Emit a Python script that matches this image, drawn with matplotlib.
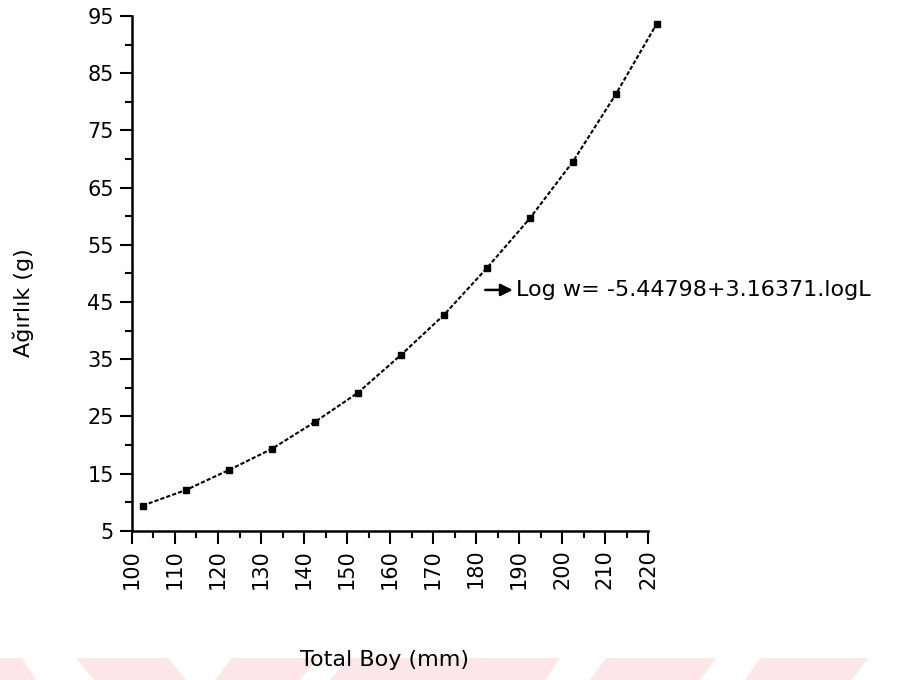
import numpy as np
from matplotlib import pyplot as plt
from matplotlib.patches import Polygon

# total length (mm) and weight (g)
boy = [102.5, 112.5, 122.5, 132.5, 142.5, 152.5, 162.5, 172.5, 182.5, 192.5, 202.5, 212.5, 222.0]
agirlik = [9.4, 12.1, 15.6, 19.3, 24.0, 29.1, 35.7, 42.7, 50.9, 59.6, 69.5, 81.3, 93.6]

x_ticks = list(range(100, 221, 10))
y_ticks = list(range(5, 96, 10))
denklem = 'Log w= -5.44798+3.16371.logL'

plt.rcParams['font.family'] = ['DejaVu Sans']

fig = plt.figure(figsize=(9.13, 6.8), dpi=100)

# faint pink watermark stripes at the bottom
pink = '#fce6ea'
bands = [
    [(0, 658), (22, 658), (36, 680), (0, 680)],
    [(76, 658), (168, 658), (186, 680), (94, 680)],
    [(215, 680), (232, 658), (318, 658), (300, 680)],
    [(330, 680), (348, 658), (560, 658), (545, 680)],
    [(590, 680), (606, 658), (716, 658), (700, 680)],
    [(745, 680), (760, 658), (868, 658), (852, 680)],
]
for b in bands:
    pts = [(px / 913, 1 - py / 680) for px, py in b]
    fig.patches.append(Polygon(pts, closed=True, transform=fig.transFigure,
                               facecolor=pink, edgecolor='none', zorder=0))

ax = fig.add_axes([132 / 913, 1 - 530.7 / 680, (648 - 132) / 913, (530.7 - 16) / 680])
ax.patch.set_alpha(0)

ax.plot(boy, agirlik, color='k', lw=1.5, linestyle=(0, (2, 1)),
        marker='s', markersize=5, clip_on=False)

ax.set_xlim(100, 220)
ax.set_ylim(5, 95)
ax.set_xticks(x_ticks)
ax.set_xticklabels([str(v) for v in x_ticks], rotation=90, fontsize=15)
ax.set_xticks(np.arange(105, 220, 10), minor=True)
ax.set_yticks(y_ticks)
ax.set_yticklabels([str(v) for v in y_ticks], fontsize=15)
ax.set_yticks(np.arange(10, 95, 10), minor=True)
ax.tick_params(which='major', length=9, width=1.5, direction='out', pad=4)
ax.tick_params(which='minor', length=5, width=1.5, direction='out')

for s in ['top', 'right']:
    ax.spines[s].set_visible(False)
for s in ['left', 'bottom']:
    ax.spines[s].set_linewidth(1.8)

ax.annotate('', xy=(189.2, 47.1), xytext=(181.5, 47.1),
            arrowprops=dict(arrowstyle='-|>', color='k', lw=1.8, mutation_scale=18),
            annotation_clip=False)
ax.text(189.4, 47.1, denklem, fontsize=16, va='center', ha='left', clip_on=False)

fig.text(384 / 913, 1 - 660 / 680, 'Total Boy (mm)', fontsize=16, ha='center', va='center')
fig.text(23 / 913, 1 - 303 / 680, 'Ağırlık (g)', fontsize=16, ha='center', va='center',
         rotation=90)

plt.savefig('out.png', dpi=100)
